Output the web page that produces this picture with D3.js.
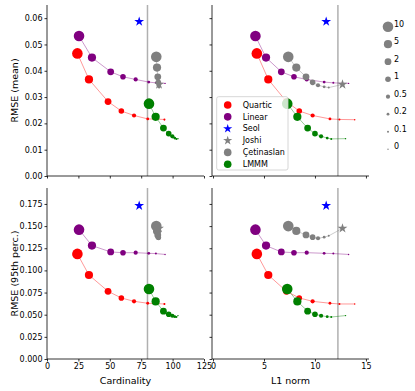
<!DOCTYPE html>
<html>
<head>
<meta charset="utf-8">
<script src="https://cdn.jsdelivr.net/npm/d3@7"></script>
<style>
  body { margin: 0; background: #fff; }
  text { font-family: "DejaVu Sans", sans-serif; }
</style>
</head>
<body>
<div id="chart"></div>
<script>
// regularisation weights (marker size legend), largest first
var weights = [10, 5, 2, 1, 0.5, 0.2, 0.1, 0];

// Quartic
var quarticCard = [24.2, 33.4, 48.6, 59.2, 69.3, 80.2, 93.5, 93.5];
var quarticL1 = [4.3, 5.42, 7.2, 8.46, 9.77, 11.47, 12.4, 13.9];
var quarticMean = [0.0466, 0.0367, 0.0283, 0.0247, 0.0230, 0.0217, 0.0215, 0.0214];
var quarticP95 = [0.1186, 0.0948, 0.0764, 0.0689, 0.0651, 0.0629, 0.0621, 0.0621];

// Linear
var linearCard = [25.5, 35.8, 50.7, 60.5, 70.6, 81, 86.7, 94];
var linearL1 = [4.16, 5.2, 6.7, 7.94, 9.19, 10.9, 11.8, 13.3];
var linearMean = [0.0532, 0.0450, 0.0396, 0.0377, 0.0367, 0.0357, 0.0354, 0.0352];
var linearP95 = [0.146, 0.128, 0.1208, 0.1200, 0.1200, 0.1193, 0.1190, 0.1180];

// Çetinaslan
var cetinCard = [87.0, 87.6, 88.2, 88.6, 88.9, 89.1, 89.3, 89.2];
var cetinL1 = [7.38, 8.17, 9.12, 9.77, 10.3, 10.9, 11.35, 12.7];
var cetinMean = [0.0453, 0.0412, 0.0377, 0.0356, 0.0345, 0.0339, 0.0336, 0.0348];
var cetinP95 = [0.150, 0.1445, 0.140, 0.1375, 0.1363, 0.1375, 0.139, 0.1475];

// LMMM
var lmmmCard = [81.2, 86.5, 92.7, 96.9, 99.8, 101.7, 103.0, 104.3];
var lmmmL1 = [7.28, 8.27, 9.28, 10.0, 10.6, 11.2, 11.6, 13.0];
var lmmmMean = [0.0275, 0.0225, 0.0182, 0.0161, 0.0151, 0.0144, 0.0141, 0.0142];
var lmmmP95 = [0.079, 0.065, 0.054, 0.0505, 0.0488, 0.0478, 0.0474, 0.0490];

// single-point methods
var seol = { card: 73.4, l1: 11.1, mean: 0.0587, p95: 0.1730 };
var joshi = { card: 89.2, l1: 12.7, mean: 0.0348, p95: 0.1475 };

// reference lines
var refCard = 80;
var refL1 = 12.25;

var legendNames = ["Quartic", "Linear", "Seol", "Joshi", "Çetinaslan", "LMMM"];

var W = 415, H = 391;
var svg = d3.select("#chart").append("svg")
    .attr("width", W)
    .attr("height", H);

var cols = [[47, 204], [212, 369]];
var rows = [[5, 176], [188, 359]];

var xCard = d3.scaleLinear().domain([0, 125]).range(cols[0]);
var xL1 = d3.scaleLinear().domain([-0.1, 15.3]).range(cols[1]);
var yMean = d3.scaleLinear().domain([0, 0.065]).range([rows[0][1], rows[0][0]]);
var yP95 = d3.scaleLinear().domain([0, 0.193]).range([rows[1][1], rows[1][0]]);

var rScale = d3.scaleOrdinal()
    .domain(weights)
    .range([5.3, 4.1, 3.4, 2.8, 2.1, 1.4, 1.0, 0.7]);

var series = [
    { name: "Quartic", color: "red", card: quarticCard, l1: quarticL1, mean: quarticMean, p95: quarticP95 },
    { name: "Linear", color: "purple", card: linearCard, l1: linearL1, mean: linearMean, p95: linearP95 },
    { name: "Çetinaslan", color: "gray", card: cetinCard, l1: cetinL1, mean: cetinMean, p95: cetinP95 },
    { name: "LMMM", color: "green", card: lmmmCard, l1: lmmmL1, mean: lmmmMean, p95: lmmmP95 }
];

var panels = [
    { x: xCard, y: yMean, xk: "card", yk: "mean", ref: refCard, xlab: false, ylab: true },
    { x: xL1, y: yMean, xk: "l1", yk: "mean", ref: refL1, xlab: false, ylab: false },
    { x: xCard, y: yP95, xk: "card", yk: "p95", ref: refCard, xlab: true, ylab: true },
    { x: xL1, y: yP95, xk: "l1", yk: "p95", ref: refL1, xlab: true, ylab: false }
];

var star = d3.symbol().type(d3.symbolStar).size(30);

panels.forEach(function (p, i) {
    var g = svg.append("g");
    var y0 = p.y.range()[0], y1 = p.y.range()[1];

    // reference line
    g.append("line")
        .attr("x1", p.x(p.ref)).attr("x2", p.x(p.ref))
        .attr("y1", y0).attr("y2", y1)
        .attr("stroke", "#b0b0b0")
        .attr("stroke-width", 1.5);

    function drawSeries(s) {
        var pts = weights.map(function (w, j) {
            return { w: w, x: s[p.xk][j], y: s[p.yk][j] };
        });
        g.append("path")
            .datum(pts)
            .attr("fill", "none")
            .attr("stroke", s.color)
            .attr("stroke-opacity", 0.5)
            .attr("stroke-width", 0.8)
            .attr("d", d3.line()
                .x(function (d) { return p.x(d.x); })
                .y(function (d) { return p.y(d.y); }));
        g.selectAll(null)
            .data(pts)
            .enter().append("circle")
            .attr("cx", function (d) { return p.x(d.x); })
            .attr("cy", function (d) { return p.y(d.y); })
            .attr("r", function (d) { return rScale(d.w); })
            .attr("fill", s.color);
    }

    drawSeries(series[0]);
    drawSeries(series[1]);

    // Seol and Joshi stars
    g.append("path")
        .attr("d", star)
        .attr("transform", "translate(" + p.x(seol[p.xk]) + "," + p.y(seol[p.yk]) + ")")
        .attr("fill", "blue");
    g.append("path")
        .attr("d", star)
        .attr("transform", "translate(" + p.x(joshi[p.xk]) + "," + p.y(joshi[p.yk]) + ")")
        .attr("fill", "gray");

    drawSeries(series[2]);
    drawSeries(series[3]);

    // axes
    var isP95 = p.yk === "p95";
    var ya = d3.axisLeft(p.y)
        .tickValues(isP95 ? d3.range(0, 0.176, 0.025) : d3.range(0, 0.061, 0.01))
        .tickSize(2.5).tickPadding(2)
        .tickFormat(p.ylab ? d3.format(isP95 ? ".3f" : ".2f") : "");
    var xa = d3.axisBottom(p.x)
        .tickValues(p.xk === "card" ? [0, 25, 50, 75, 100, 125] : [0, 5, 10, 15])
        .tickSize(2.5).tickPadding(2)
        .tickFormat(p.xlab ? d3.format("d") : "");

    var gy = g.append("g")
        .attr("transform", "translate(" + p.x.range()[0] + ",0)")
        .call(ya);
    var gx = g.append("g")
        .attr("transform", "translate(0," + y0 + ")")
        .call(xa);
    [gx, gy].forEach(function (a) {
        a.select(".domain").attr("stroke", "#000").attr("stroke-width", 0.8);
        a.selectAll(".tick line").attr("stroke", "#000").attr("stroke-width", 0.8);
        a.selectAll("text").style("font-size", "8px").attr("fill", "#000");
    });
    gy.select(".domain").attr("d", "M0," + y0 + "V" + y1);
    gx.select(".domain").attr("d", "M" + p.x.range()[0] + ",0H" + p.x.range()[1]);
});

// axis labels
svg.append("text")
    .attr("transform", "translate(15," + (rows[0][0] + rows[0][1]) / 2 + ") rotate(-90)")
    .attr("text-anchor", "middle")
    .attr("dy", "0.35em")
    .style("font-size", "9.5px")
    .text("RMSE (mean)");
svg.append("text")
    .attr("transform", "translate(15," + (rows[1][0] + rows[1][1]) / 2 + ") rotate(-90)")
    .attr("text-anchor", "middle")
    .attr("dy", "0.35em")
    .style("font-size", "9.5px")
    .text("RMSE (95th perc.)");
svg.append("text")
    .attr("x", (cols[0][0] + cols[0][1]) / 2)
    .attr("y", 384)
    .attr("text-anchor", "middle")
    .style("font-size", "9.5px")
    .text("Cardinality");
svg.append("text")
    .attr("x", (cols[1][0] + cols[1][1]) / 2)
    .attr("y", 384)
    .attr("text-anchor", "middle")
    .style("font-size", "9.5px")
    .text("L1 norm");

// method legend
var legColors = ["red", "purple", "blue", "gray", "gray", "green"];
var legStar = [false, false, true, true, false, false];
var lg = svg.append("g").attr("transform", "translate(216.7,96.7)");
lg.append("rect")
    .attr("width", 71.3).attr("height", 73.3)
    .attr("rx", 2)
    .attr("fill", "#fff").attr("fill-opacity", 0.8)
    .attr("stroke", "#ccc").attr("stroke-width", 0.8);
legendNames.forEach(function (n, i) {
    var cy = 8.3 + i * 11.85;
    if (legStar[i]) {
        lg.append("path")
            .attr("d", d3.symbol().type(d3.symbolStar).size(26))
            .attr("transform", "translate(11," + cy + ")")
            .attr("fill", legColors[i]);
    } else {
        lg.append("circle")
            .attr("cx", 11).attr("cy", cy).attr("r", 3.8)
            .attr("fill", legColors[i]);
    }
    lg.append("text")
        .attr("x", 26).attr("y", cy)
        .attr("dy", "0.35em")
        .style("font-size", "8px")
        .text(n);
});

// marker size legend
var sg = svg.append("g").attr("transform", "translate(388,0)");
weights.forEach(function (w, i) {
    var cy = 26.7 + i * 17.5;
    sg.append("circle")
        .attr("cx", 0).attr("cy", cy)
        .attr("r", rScale(w))
        .attr("fill", "gray");
    sg.append("text")
        .attr("x", 6).attr("y", cy - 3)
        .attr("dy", "0.35em")
        .style("font-size", "8px")
        .text(w);
});
</script>
</body>
</html>
